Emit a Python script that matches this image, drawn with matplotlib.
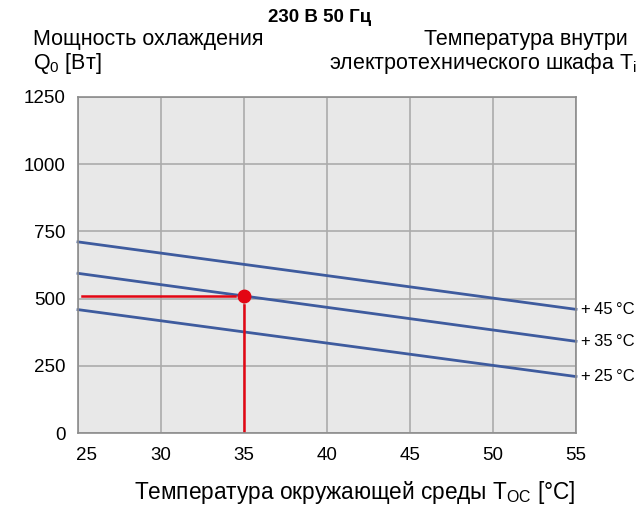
import matplotlib
matplotlib.use("Agg")
import matplotlib.pyplot as plt
from matplotlib.transforms import ScaledTranslation

plt.rcParams['font.family'] = ['Liberation Sans', 'DejaVu Sans']
plt.rcParams['mathtext.fontset'] = 'custom'
plt.rcParams['mathtext.rm'] = 'Liberation Sans'
plt.rcParams['mathtext.it'] = 'Liberation Sans'

# Data
t_ambient = [25, 55]
curves = {
    "+45 °C": [711, 460],
    "+35 °C": [594, 341],
    "+25 °C": [459, 210],
}
x_ticks = [25, 30, 35, 40, 45, 50, 55]
y_ticks = [0, 250, 500, 750, 1000, 1250]
op_x, op_y = 35, 508
h_line_x = [25.25, 34.45]
v_line_y = [475, 0]

blue = '#3e5b9e'
red = '#e30613'

fig = plt.figure(figsize=(6.39, 5.07), dpi=100)
ax = fig.add_axes([78/639, 1-433/507, (576-78)/639, (433-97)/507])
ax.set_facecolor('#e8e8e8')
ax.set_xlim(25, 55)
ax.set_ylim(0, 1250)
ax.set_xticks(x_ticks)
ax.set_yticks(y_ticks)
ax.grid(True, color='#ababab', linewidth=1.2)
ax.set_axisbelow(True)
for s in ax.spines.values():
    s.set_color('#8c8c8c')
    s.set_linewidth(1.2)
ax.tick_params(length=0, labelsize=13.5)
ax.tick_params(axis='x', pad=10)
ax.tick_params(axis='y', pad=9)
fig.canvas.draw()
first = ax.get_xticklabels()[0]
first.set_transform(first.get_transform() + ScaledTranslation(8/100, 0, fig.dpi_scale_trans))

for label, vals in curves.items():
    ax.text(55.3, vals[1], label.replace(" ", "").replace("+", "+\u2009").replace("°", "\u2009°"),
            va='center', ha='left', fontsize=12)
    ax.plot(t_ambient, vals, color=blue, linewidth=2, clip_on=False)

ax.plot(h_line_x, [op_y, op_y], color=red, linewidth=1.8)
ax.plot([op_x, op_x], v_line_y, color=red, linewidth=1.8)
ax.plot([op_x], [op_y], 'o', color=red, markersize=9)

fig.text(320/639, 1-18/507, '230 В 50 Гц', ha='center', va='center', fontsize=13.5, fontweight='bold')
fig.text(33/639, 1-40/507, 'Мощность охлаждения', ha='left', va='center', fontsize=15.5)
fig.text(33/639, 1-64/507, r'Q$_0$ [Вт]', ha='left', va='center', fontsize=15.5)
fig.text(628/639, 1-40/507, 'Температура внутри', ha='right', va='center', fontsize=15.5)
fig.text(637/639, 1-64/507, r'электротехнического шкафа T$_\mathrm{i}$', ha='right', va='center', fontsize=15.5)
fig.text(355/639, 1-492/507, r'Температура окружающей среды T$_\mathrm{OC}$ [°C]', ha='center', va='center', fontsize=16.3)

fig.savefig('out.png', dpi=100)
